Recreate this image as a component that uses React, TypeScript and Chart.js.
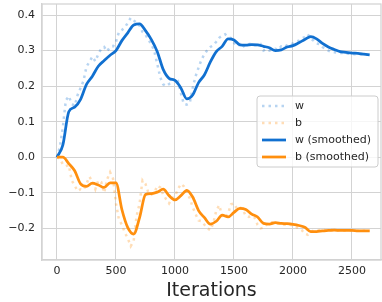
import React, { useEffect, useRef } from "react";
import { Chart, registerables } from "chart.js";
Chart.register(...registerables);

const RAW_STEP = 25;
const SMOOTH_STEP = 50;

const wRaw = [
  0.0, 0.03, 0.085, 0.16, 0.172, 0.15, 0.145, 0.175, 0.195, 0.215,
  0.255, 0.268, 0.283, 0.27, 0.29, 0.305, 0.31, 0.298, 0.31, 0.312,
  0.325, 0.352, 0.358, 0.365, 0.378, 0.392, 0.385, 0.378, 0.37, 0.352,
  0.345, 0.33, 0.318, 0.298, 0.262, 0.225, 0.205, 0.2, 0.206, 0.21,
  0.222, 0.215, 0.18, 0.15, 0.148, 0.152, 0.195, 0.228, 0.252, 0.275,
  0.29, 0.302, 0.31, 0.315, 0.325, 0.336, 0.342, 0.346, 0.338, 0.335,
  0.322, 0.312, 0.318, 0.31, 0.318, 0.318, 0.32, 0.315, 0.315, 0.318,
  0.3, 0.305, 0.3, 0.303, 0.305, 0.302, 0.312, 0.31, 0.315, 0.318,
  0.32, 0.325, 0.328, 0.335, 0.338, 0.346, 0.333, 0.328, 0.32, 0.318,
  0.31, 0.305, 0.3, 0.296, 0.295, 0.294, 0.293, 0.293, 0.292, 0.291,
  0.291, 0.29, 0.29, 0.289, 0.289, 0.288, 0.288,
];

const bRaw = [
  0.0, -0.005, -0.02, -0.025, -0.022, -0.065, -0.08, -0.095, -0.09, -0.092,
  -0.075, -0.055, -0.068, -0.09, -0.065, -0.07, -0.1, -0.062, -0.042, -0.06,
  -0.13, -0.175, -0.19, -0.212, -0.228, -0.25, -0.235, -0.165, -0.13, -0.065,
  -0.075, -0.1, -0.105, -0.1, -0.08, -0.085, -0.105, -0.118, -0.13, -0.115,
  -0.11, -0.09, -0.075, -0.082, -0.1, -0.115, -0.14, -0.16, -0.178, -0.18,
  -0.19, -0.2, -0.205, -0.185, -0.15, -0.135, -0.165, -0.17, -0.158, -0.132,
  -0.13, -0.145, -0.14, -0.148, -0.165, -0.168, -0.165, -0.17, -0.19, -0.2,
  -0.198, -0.19, -0.182, -0.183, -0.185, -0.187, -0.186, -0.19, -0.188, -0.19,
  -0.192, -0.195, -0.2, -0.205, -0.215, -0.218, -0.21, -0.206, -0.205, -0.205,
  -0.204, -0.205, -0.206, -0.205, -0.206, -0.206, -0.205, -0.207, -0.206, -0.206,
  -0.207, -0.206, -0.207, -0.207, -0.207, -0.207, -0.207,
];

const wSmooth = [
  0.0, 0.035, 0.128, 0.141, 0.163, 0.205, 0.228, 0.256, 0.272, 0.287,
  0.3, 0.328, 0.35, 0.372, 0.375, 0.356, 0.331, 0.297, 0.247, 0.222,
  0.216, 0.195, 0.164, 0.175, 0.21, 0.232, 0.268, 0.297, 0.312, 0.333,
  0.33, 0.316, 0.315, 0.317, 0.316, 0.312, 0.308, 0.3, 0.302, 0.31,
  0.314, 0.322, 0.331, 0.339, 0.333, 0.32, 0.31, 0.303, 0.297, 0.295,
  0.293, 0.292, 0.29, 0.288,
];

const bSmooth = [
  0.0, 0.0, -0.018, -0.038, -0.075, -0.082, -0.073, -0.078, -0.085, -0.072,
  -0.072, -0.147, -0.198, -0.216, -0.17, -0.105, -0.102, -0.098, -0.09, -0.108,
  -0.12, -0.108, -0.093, -0.112, -0.15, -0.17, -0.188, -0.18, -0.163, -0.168,
  -0.155, -0.144, -0.147, -0.16, -0.168, -0.186, -0.188, -0.184, -0.186, -0.187,
  -0.189, -0.192, -0.197, -0.209, -0.209, -0.207, -0.206, -0.205, -0.206, -0.206,
  -0.206, -0.207, -0.207, -0.207,
];

const xTicks = [0, 500, 1000, 1500, 2000, 2500];
const yTicks = [-0.2, -0.1, 0.0, 0.1, 0.2, 0.3, 0.4];

const toPoints = (vals: number[], step: number) =>
  vals.map((v, i) => ({ x: i * step, y: v }));

const FONT = "'DejaVu Sans', sans-serif";
const TEXT = "#262626";
const GRID = "#d3d3d3";
const BLUE = "#1170d0";
const ORANGE = "#ff8f0e";
const BLUE_RAW = "rgba(17,112,208,0.3)";
const ORANGE_RAW = "rgba(255,143,14,0.3)";

const framePlugin = {
  id: "frame",
  beforeDatasetsDraw(chart: any) {
    const ctx = chart.ctx;
    const ca = chart.chartArea;
    ctx.save();
    ctx.strokeStyle = GRID;
    ctx.lineWidth = 1.25;
    ctx.strokeRect(ca.left, ca.top, ca.right - ca.left, ca.bottom - ca.top);
    ctx.restore();
  },
};

const legendPlugin = {
  id: "innerLegend",
  afterDraw(chart: any) {
    const ctx = chart.ctx;
    const ca = chart.chartArea;
    const right = ca.right - 3;
    const left = right - 121;
    const top = ca.top + 92;
    const h = 71;
    ctx.save();
    ctx.beginPath();
    const r = 3;
    ctx.moveTo(left + r, top);
    ctx.lineTo(right - r, top);
    ctx.quadraticCurveTo(right, top, right, top + r);
    ctx.lineTo(right, top + h - r);
    ctx.quadraticCurveTo(right, top + h, right - r, top + h);
    ctx.lineTo(left + r, top + h);
    ctx.quadraticCurveTo(left, top + h, left, top + h - r);
    ctx.lineTo(left, top + r);
    ctx.quadraticCurveTo(left, top, left + r, top);
    ctx.closePath();
    ctx.fillStyle = "rgba(255,255,255,0.8)";
    ctx.fill();
    ctx.strokeStyle = "#cccccc";
    ctx.lineWidth = 1;
    ctx.stroke();
    const items = chart.data.datasets;
    items.forEach((ds: any, i: number) => {
      const y = top + 10 + i * 17;
      ctx.beginPath();
      ctx.strokeStyle = ds.borderColor;
      ctx.lineWidth = ds.borderWidth;
      ctx.setLineDash(ds.borderDash || []);
      ctx.moveTo(left + 5, y);
      ctx.lineTo(left + 29, y);
      ctx.stroke();
      ctx.setLineDash([]);
      ctx.fillStyle = TEXT;
      ctx.font = "11px " + FONT;
      ctx.textBaseline = "middle";
      ctx.textAlign = "left";
      ctx.fillText(ds.label, left + 38, y);
    });
    ctx.restore();
  },
};

export default function App() {
  const ref = useRef<HTMLCanvasElement>(null);
  useEffect(() => {
    if (!ref.current) return;
    const chart = new Chart(ref.current, {
      type: "line",
      data: {
        datasets: [
          {
            label: "w",
            data: toPoints(wRaw, RAW_STEP),
            borderColor: BLUE_RAW,
            borderWidth: 2.5,
            borderDash: [2.5, 4],
            pointRadius: 0,
            tension: 0,
            order: 4,
          },
          {
            label: "b",
            data: toPoints(bRaw, RAW_STEP),
            borderColor: ORANGE_RAW,
            borderWidth: 2.5,
            borderDash: [2.5, 4],
            pointRadius: 0,
            tension: 0,
            order: 3,
          },
          {
            label: "w (smoothed)",
            data: toPoints(wSmooth, SMOOTH_STEP),
            borderColor: BLUE,
            borderWidth: 2.75,
            pointRadius: 0,
            cubicInterpolationMode: "monotone",
            order: 2,
          },
          {
            label: "b (smoothed)",
            data: toPoints(bSmooth, SMOOTH_STEP),
            borderColor: ORANGE,
            borderWidth: 2.75,
            pointRadius: 0,
            cubicInterpolationMode: "monotone",
            order: 1,
          },
        ] as any,
      },
      options: {
        animation: false,
        responsive: true,
        maintainAspectRatio: false,
        layout: { padding: { top: 4, right: 1, left: 0, bottom: 0 } },
        plugins: { legend: { display: false }, tooltip: { enabled: false } },
        scales: {
          x: {
            type: "linear",
            min: -127,
            max: 2746,
            afterBuildTicks: (s: any) => {
              s.ticks = xTicks.map((v) => ({ value: v }));
            },
            afterFit: (s: any) => {
              s.height = 42;
              s.paddingLeft = 0;
              s.paddingRight = 0;
            },
            grid: { color: GRID, lineWidth: 1, drawTicks: false },
            border: { color: GRID, width: 1.25 },
            ticks: {
              color: TEXT,
              font: { family: FONT, size: 11 },
              padding: 5,
              maxRotation: 0,
              callback: (v: any) => String(v),
            },
            title: {
              display: true,
              text: "Iterations",
              color: TEXT,
              font: { family: FONT, size: 19 },
              padding: { top: 0, bottom: 0 },
            },
          },
          y: {
            type: "linear",
            min: -0.289,
            max: 0.431,
            afterBuildTicks: (s: any) => {
              s.ticks = yTicks.map((v) => ({ value: v }));
            },
            afterFit: (s: any) => {
              s.width = 42;
              s.paddingTop = 0;
              s.paddingBottom = 0;
            },
            grid: { color: GRID, lineWidth: 1, drawTicks: false },
            border: { color: GRID, width: 1.25 },
            ticks: {
              color: TEXT,
              font: { family: FONT, size: 11 },
              padding: 7,
              callback: (v: any) => {
                const n = Number(v);
                const s = Math.abs(n).toFixed(1);
                return n < -1e-9 ? "\u2212" + s : s;
              },
            },
          },
        },
      },
      plugins: [framePlugin, legendPlugin],
    });
    return () => chart.destroy();
  }, []);
  return (
    <div style={{ position: "fixed", left: 0, top: 0, width: 382, height: 302, background: "#fff" }}>
      <canvas ref={ref} />
    </div>
  );
}
